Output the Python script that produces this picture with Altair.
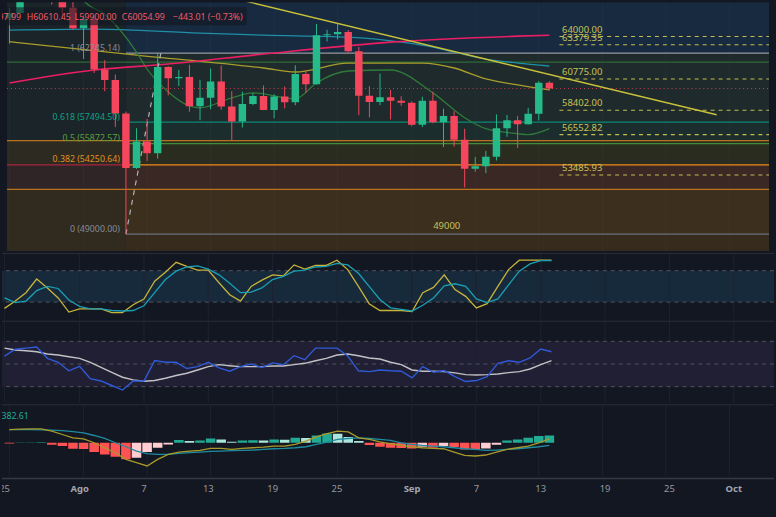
import altair as alt
import pandas as pd

# ---------------------------------------------------------------- data
# day index: 0 = 1 Aug (Ago); -7 = 25 Jul ... 44 = 14 Sep
DAYS = list(range(-7, 45))
OPEN = [65357, 65778, 67908, 67896, 68249, 66784, 66188,
        64628, 65354, 61498, 60697, 58161, 54018, 56022, 55133, 61686, 60837,
        60923, 58712, 59346, 60587, 58683, 57541, 58874, 59491, 58427, 59438,
        59013, 61157, 60381, 64094, 64178, 64333, 62880, 59504, 59027, 59388, 59119,
        58973, 57301, 59132, 57487, 57970, 56160, 53962, 54160, 54869, 57042,
        57635, 57338, 58132, 60497.99]
HIGH = [66175, 68200, 69399, 68318, 70079, 66800, 66849,
        65659, 65596, 62198, 61117, 58305, 57040, 57736, 62745, 61744, 61470,
        61858, 60711, 61572, 61800, 59849, 59817, 59700, 60284, 59617, 60200,
        61820, 61400, 64955, 64513, 65000, 64481, 63213, 60235, 61184, 59950, 59462,
        59072, 59425, 59809, 58519, 58327, 56995, 54850, 55318, 58088, 58044,
        57981, 58588, 60625, 60610.45]
LOW = [63456, 65700, 66650, 67066, 66428, 65323, 64530,
       62302, 61230, 59850, 57122, 49000, 53950, 54558, 54730, 59535, 60242,
       58286, 57642, 58478, 58433, 56078, 57098, 58785, 58408, 57787, 58548,
       58783, 59724, 60345, 63620, 63775, 62800, 58034, 57860, 58786, 57703, 58744,
       57201, 57128, 57415, 55606, 55643, 52550, 53745, 53629, 54591, 56386,
       55545, 57311, 57632, 59900.00]
CLOSE = [65778, 67908, 67896, 68249, 66784, 66188, 64628,
         65354, 61498, 60697, 58161, 54018, 56022, 55134, 61685, 60837, 60923,
         58712, 59346, 60587, 58683, 57541, 58874, 59491, 58427, 59438, 59013,
         61157, 60381, 64094, 64178, 64333, 62880, 59504, 59027, 59388, 59119, 58973,
         57301, 59132, 57487, 57970, 56160, 53962, 54160, 54869, 57042, 57635,
         57338, 58132, 60498, 60054.99]
CHANGE_TEXT = "\u2212443.01 (\u22120.73%)"

# moving averages (knots)
PINK_D = [-7, 1, 8, 17, 29, 41, 44]
PINK_V = [60476, 61458, 61910, 62666, 63572, 64025, 64100]
TEAL_D = [-7, 1, 11, 17, 25, 30, 33, 35, 38, 41, 44]
TEAL_V = [64478, 64553, 64251, 64100, 63949, 63572, 63194, 62817, 62288, 61986, 61760]
YEL_D = [-7, 5, 17, 20, 25, 32, 35, 38, 41, 44]
YEL_V = [63609, 62590, 61609, 61307, 61986, 61986, 61609, 60778, 60325, 59948]
GRN_D = [-1, 0, 2, 5, 6, 8, 10, 11, 14, 16, 20, 22, 25, 29, 33, 36, 38, 41, 42, 44]
GRN_V = [68100, 66742, 65686, 62816, 61533, 59796, 58740, 58588, 59344, 59721,
         59268, 60476, 61382, 61458, 59721, 57834, 57003, 56626, 56550, 57003]

# Fibonacci retracement
FIB_START = 4
FIB_END_DAY = 7.3
FIB_LEVELS = [1, 0.618, 0.5, 0.382, 0]
FIB_PRICES = [62745.14, 57494.50, 55872.57, 54250.64, 49000.00]
ZONE_PRICES = [56100, 52400]
GREEN_LINE = 62060
LAST_PRICE = 60054.99

# horizontal levels
LEVELS = [64000.00, 63379.35, 60775.00, 58402.00, 56552.82, 53485.93]
LEVEL_START = 45.2
TREND_D = [15.0, 59.8]
TREND_V = [66742, 58060]
LABEL_49000_D = 34.3

# oscillators
STOCH_K = [8, 22, 38, 64, 47, 28, 1, 7, 7, 7, 0, 0, 15, 26, 60, 77, 96, 88, 81, 81,
           57, 34, 22, 50, 62, 72, 70, 91, 83, 90, 90, 100, 82, 50, 17, 4, 4,
           4, 2, 38, 48, 72, 44, 31, 9, 17, 50, 82, 100, 100, 100, 100]
STOCH_D = [28, 19, 22, 42, 50, 46, 24, 12, 7, 7, 4, 3, 4, 13, 38, 63, 79, 87, 89, 83,
           72, 56, 38, 39, 47, 63, 69, 79, 81, 87, 88, 94, 91, 75, 50, 25, 9,
           6, 3, 14, 28, 51, 55, 50, 26, 19, 26, 53, 79, 93, 99, 99]
RSI = [57, 63, 64, 65, 55, 51.5, 44, 48, 37, 35, 31, 27, 35, 35, 53, 51.5, 51.5, 46, 47.7, 51.5,
       46.5, 43.6, 47.7, 50, 47, 51, 49.4, 57.3, 53.8, 64, 64, 64, 57, 44, 43.3, 44.7, 44,
       43.6, 37.7, 47.7, 42.7, 44.2, 38.9, 34.5, 35.4, 38.9, 50.6, 52.9, 51.5, 55.3, 63.2, 60.8]
RSI_MA = [64, 62.3, 61.7, 60.8, 58.8, 57.9, 56.4, 55, 51.5, 47.1, 42.7, 38.3, 36, 34.8, 35.4,
          37.4, 39.8, 41.8, 44.7, 47.7, 49.4, 48.5, 47.7, 47.7, 47.7, 48.2, 48.2, 49.4, 50.6,
          52.9, 55, 57.9, 58.8, 57.3, 55.3, 54.4, 51.5,
          49.4, 44.7, 43.6, 43.6, 43.3, 42.2, 40.6, 40.3, 40.6, 41.2, 42.4, 43.3, 45.6, 49.4, 52.9]
MACD_HIST = [-42, 10, 16, 21, -104, -172, -312, -322, -484, -608, -728, -868, -780, -484,
             -260, -88, 140, 88, 120, 224, 172, 52, 120, 135, 114, 172, 156, 260, 250, 380,
             484, 468, 296, 88, -120, -208, -260, -276, -296, -208, -260, -172, -224, -348,
             -354, -296, -104, 120, 172, 260, 348, 382.61]
MACD_LINE = [692, 712, 728, 728, 608, 432, 260, 208, 0, -260, -520, -868, -1040, -1212,
             -868, -608, -484, -432, -400, -296, -296, -348, -296, -260, -224, -172, -172,
             -88, 88, 312, 484, 608, 572, 260, 172, 52, -52,
             -140, -208, -260, -296, -312, -484, -660, -692, -640, -484, -348, -260, -172, 0, 208]
MACD_SIGNAL = [692, 692, 692, 676, 660, 640, 588, 520, 380, 224, 0, -208, -432, -572, -608,
               -608, -556, -520, -484, -452, -432, -416, -400, -380, -348, -312, -296, -260,
               -208, -88, 36, 172, 224, 260, 224, 172, 120,
               0, -88, -140, -172, -208, -260, -312, -348, -400, -380, -348, -312, -260, -208, -140]

TICK_DAYS = [-7, 0, 6, 12, 18, 24, 31, 37, 43, 49, 55, 61]
TICK_LABELS = ["25", "Ago", "7", "13", "19", "25", "Sep", "7", "13", "19", "25", "Oct"]
MONTH_LABELS = ["Ago", "Sep", "Oct"]

# ---------------------------------------------------------------- layout / styles
W = 776
H_MAIN, H_STOCH, H_RSI, H_MACD, H_AXIS = 250, 66, 82, 72, 47
XD = [-7.2356, 64.7495]
PD = [47716.5, 66591.5]
SD = [-11.7, 113.6]
RD = [16.2, 88.2]
MD = [-1732, 2012]
FONT = "Noto Sans"
UP, DOWN = "#26b98a", "#f6465d"
GRID = "#1e2230"
SEP = "#2a2e39"

xsc = alt.Scale(domain=XD, nice=False, zero=False)


def X(f="d"):
    return alt.X(f"{f}:Q", scale=xsc, axis=None)


def Y(f, dom):
    return alt.Y(f"{f}:Q", scale=alt.Scale(domain=dom, nice=False, zero=False), axis=None)


def one():
    return alt.Chart(pd.DataFrame({"k": [0]}))


def hline(p, dom, color, d1=XD[0], d2=XD[1], width=1.0, dash=None, opacity=1.0):
    kw = dict(color=color, strokeWidth=width, opacity=opacity, clip=True)
    if dash:
        kw["strokeDash"] = dash
    df = pd.DataFrame({"d": [d1], "d2": [d2], "p": [p]})
    return alt.Chart(df).mark_rule(**kw).encode(x=X(), x2="d2:Q", y=Y("p", dom))


def label(text, x, y, color, size=8.8, align="left", weight="normal"):
    return one().mark_text(text=text, align=align, baseline="alphabetic", font=FONT,
                           fontSize=size, color=color, fontWeight=weight, clip=True).encode(
        x=alt.value(x), y=alt.value(y))


def sep_line():
    return one().mark_rule(color=SEP, strokeWidth=1).encode(
        x=alt.value(0), x2=alt.value(W), y=alt.value(0.5))


def vgrid(color=GRID, opacity=1.0):
    return alt.Chart(pd.DataFrame({"d": TICK_DAYS})).mark_rule(
        color=color, strokeWidth=1, opacity=opacity).encode(x=X())


# ---------------------------------------------------------------- main pane
top, bot = PD[1], PD[0]
zones = [
    # left of the fib start
    (XD[0], FIB_START, ZONE_PRICES[0], top, "#1b2428"),
    (XD[0], FIB_START, FIB_PRICES[3], ZONE_PRICES[0], "#2c2a21"),
    (XD[0], FIB_START, ZONE_PRICES[1], FIB_PRICES[3], "#2f2527"),
    (XD[0], FIB_START, bot, ZONE_PRICES[1], "#302a1f"),
    # fib zones
    (FIB_START, XD[1], FIB_PRICES[0], top, "#172a3f"),
    (FIB_START, XD[1], FIB_PRICES[1], FIB_PRICES[0], "#1e2a2b"),
    (FIB_START, XD[1], ZONE_PRICES[0], FIB_PRICES[1], "#1b2e2d"),
    (FIB_START, XD[1], FIB_PRICES[3], ZONE_PRICES[0], "#2b2c20"),
    (FIB_START, XD[1], ZONE_PRICES[1], FIB_PRICES[3], "#3a2824"),
    (FIB_START, XD[1], FIB_PRICES[4], ZONE_PRICES[1], "#3c2f1e"),
    (FIB_START, XD[1], bot, FIB_PRICES[4], "#362b1c"),
]
zdf = pd.DataFrame(zones, columns=["d", "d2", "p", "p2", "col"])
bg = alt.Chart(zdf).mark_rect(clip=True).encode(
    x=X(), x2="d2:Q", y=Y("p", PD), y2="p2:Q", color=alt.Color("col:N", scale=None))

layers = [bg, vgrid("#ffffff", 0.03)]

# horizontal structure lines
layers += [
    hline(ZONE_PRICES[0], PD, "#b8731e", width=1.3),
    hline(ZONE_PRICES[1], PD, "#b8731e", width=1.3),
    hline(FIB_PRICES[3], PD, "#a8243f", d2=FIB_START, width=1.3),
    hline(GREEN_LINE, PD, "#2d6a36", width=1.3),
]
fib_line_colors = ["#9598a1", "#0d8a77", "#3f8f3a", "#f08a1a", "#6d707a"]
for p, c in zip(FIB_PRICES, fib_line_colors):
    layers.append(hline(p, PD, c, d1=FIB_START, width=1.2))
layers.append(hline(LAST_PRICE, PD, "#f6465d", width=1, dash=[1, 3], opacity=0.8))

# dashed yellow levels
for p in LEVELS:
    layers.append(hline(p, PD, "#c2bb4d", d1=LEVEL_START - 0.25, width=1.1, dash=[4, 4]))


# moving averages
def ma(days, vals, color, width=1.3):
    df = pd.DataFrame({"d": days, "v": vals})
    return alt.Chart(df).mark_line(color=color, strokeWidth=width, interpolate="monotone",
                                   clip=True).encode(x=X(), y=Y("v", PD))


layers += [
    ma(TEAL_D, TEAL_V, "#1f8ea6"),
    ma(YEL_D, YEL_V, "#a89d2c"),
    ma(GRN_D, GRN_V, "#2f7a3a"),
    ma(PINK_D, PINK_V, "#e91e63", 1.6),
]

# fib diagonal (dashed)
fdf = pd.DataFrame({"d": [FIB_START, FIB_END_DAY], "v": [FIB_PRICES[4], FIB_PRICES[0]]})
layers.append(alt.Chart(fdf).mark_line(color="#b0b3bc", strokeWidth=1.2, strokeDash=[5, 5],
                                       clip=True).encode(x=X(), y=Y("v", PD)))

# candles
cdf = pd.DataFrame({"d": DAYS, "o": OPEN, "h": HIGH, "l": LOW, "c": CLOSE})
cdf["col"] = [UP if c >= o else DOWN for o, c in zip(OPEN, CLOSE)]
layers.append(alt.Chart(cdf).mark_rule(strokeWidth=1, clip=True).encode(
    x=X(), y=Y("l", PD), y2="h:Q", color=alt.Color("col:N", scale=None)))
layers.append(alt.Chart(cdf).mark_bar(size=7.5, clip=True).encode(
    x=X(), y=Y("o", PD), y2="c:Q", color=alt.Color("col:N", scale=None)))

# descending trend line
tdf = pd.DataFrame({"d": TREND_D, "v": TREND_V})
layers.append(alt.Chart(tdf).mark_line(color="#c9c13a", strokeWidth=1.4, clip=True).encode(
    x=X(), y=Y("v", PD)))

# fib labels
fib_text_colors = ["#8a8d96", "#13a085", "#5aa03c", "#e0901f", "#8a8d96"]
fldf = pd.DataFrame({
    "d": [FIB_START - 0.57] * len(FIB_LEVELS),
    "v": FIB_PRICES,
    "t": [f"{l:g} ({p:.2f})" for l, p in zip(FIB_LEVELS, FIB_PRICES)],
    "col": fib_text_colors,
})
layers.append(alt.Chart(fldf).mark_text(align="right", baseline="alphabetic", dy=-2.5,
                                        font=FONT, fontSize=8.8, clip=True).encode(
    x=X(), y=Y("v", PD), text="t:N", color=alt.Color("col:N", scale=None)))

# level labels
lldf = pd.DataFrame({"d": [LEVEL_START] * len(LEVELS), "v": LEVELS,
                     "t": [f"{v:.2f}" for v in LEVELS]})
layers.append(alt.Chart(lldf).mark_text(align="left", baseline="alphabetic", dy=-4,
                                        font=FONT, fontSize=9.5, color="#c9c259",
                                        clip=True).encode(
    x=X(), y=Y("v", PD), text="t:N"))
layers.append(alt.Chart(pd.DataFrame({"d": [LABEL_49000_D], "v": [FIB_PRICES[4]], "t": ["49000"]}))
              .mark_text(align="center", baseline="alphabetic", dy=-5.5, font=FONT,
                         fontSize=9.5, color="#c9c259", clip=True)
              .encode(x=X(), y=Y("v", PD), text="t:N"))

# legend header
layers.append(one().mark_rect(color="#131722", opacity=0.6).encode(
    x=alt.value(0), x2=alt.value(246), y=alt.value(5), y2=alt.value(23)))
hdr_red = "#f25a68"
layers += [
    label(f"O{OPEN[-1]:.2f}", 19, 17.5, hdr_red, align="right"),
    label(f"H{HIGH[-1]:.2f}", 25, 17.5, hdr_red),
    label(f"L{LOW[-1]:.2f}", 73, 17.5, hdr_red),
    label(f"C{CLOSE[-1]:.2f}", 120.5, 17.5, hdr_red),
    label(CHANGE_TEXT, 172, 17.5, hdr_red),
]

main = alt.layer(*layers).properties(width=W, height=H_MAIN)

# ---------------------------------------------------------------- stoch RSI pane
sdf = pd.DataFrame({"d": DAYS, "k": STOCH_K, "dd": STOCH_D})
stoch = alt.layer(
    alt.Chart(pd.DataFrame({"a": [80], "b": [20]})).mark_rect(color="#172a3b").encode(
        x=alt.value(0), x2=alt.value(W), y=Y("a", SD), y2="b:Q"),
    vgrid(),
    alt.Chart(pd.DataFrame({"v": [80, 20]})).mark_rule(color="#50545f", strokeDash=[4, 4],
                                                       strokeWidth=1).encode(y=Y("v", SD)),
    alt.Chart(sdf).mark_line(color="#c6b33a", strokeWidth=1.3, clip=True).encode(x=X(), y=Y("k", SD)),
    alt.Chart(sdf).mark_line(color="#1a9fb4", strokeWidth=1.3, clip=True).encode(x=X(), y=Y("dd", SD)),
    sep_line(),
).properties(width=W, height=H_STOCH)

# ---------------------------------------------------------------- RSI pane
rdf = pd.DataFrame({"d": DAYS, "r": RSI, "m": RSI_MA})
rsi = alt.layer(
    alt.Chart(pd.DataFrame({"a": [70], "b": [30]})).mark_rect(color="#211f33").encode(
        x=alt.value(0), x2=alt.value(W), y=Y("a", RD), y2="b:Q"),
    vgrid(),
    alt.Chart(pd.DataFrame({"v": [70, 50, 30]})).mark_rule(color="#50545f", strokeDash=[4, 4],
                                                           strokeWidth=1).encode(y=Y("v", RD)),
    alt.Chart(rdf).mark_line(color="#c2c2c6", strokeWidth=1.4, clip=True).encode(x=X(), y=Y("m", RD)),
    alt.Chart(rdf).mark_line(color="#2f5ad8", strokeWidth=1.4, clip=True).encode(x=X(), y=Y("r", RD)),
    sep_line(),
).properties(width=W, height=H_RSI)

# ---------------------------------------------------------------- MACD pane
hcols = []
prev = None
for h in MACD_HIST:
    rising = prev is not None and h > prev
    if h >= 0:
        hcols.append("#22ab94" if rising else "#ace5dc")
    else:
        hcols.append("#ffcdd2" if rising else "#ff5252")
    prev = h
mdf = pd.DataFrame({"d": DAYS, "h": MACD_HIST, "m": MACD_LINE, "s": MACD_SIGNAL, "col": hcols})
macd = alt.layer(
    vgrid(),
    alt.Chart(mdf).mark_bar(size=9.6, clip=True).encode(
        x=X(), y=Y("h", MD), y2=alt.datum(0), color=alt.Color("col:N", scale=None)),
    alt.Chart(mdf).mark_line(color="#1e8ca0", strokeWidth=1.3, clip=True).encode(x=X(), y=Y("s", MD)),
    alt.Chart(mdf).mark_line(color="#a89a2a", strokeWidth=1.3, clip=True).encode(x=X(), y=Y("m", MD)),
    label(f"{MACD_HIST[-1]:.2f}", 27, 15, "#22ab94", align="right"),
    sep_line(),
).properties(width=W, height=H_MACD)

# ---------------------------------------------------------------- date axis pane
tdf2 = pd.DataFrame({"d": TICK_DAYS, "t": TICK_LABELS})
tdf2["month"] = [t in MONTH_LABELS for t in TICK_LABELS]
axis = alt.layer(
    alt.Chart(tdf2[~tdf2["month"]]).mark_text(font=FONT, fontSize=9.5, color="#9598a1",
                                                baseline="middle", clip=True).encode(
        x=X(), y=alt.value(11), text="t:N"),
    alt.Chart(tdf2[tdf2["month"]]).mark_text(font=FONT, fontSize=9.5, color="#a3a6af",
                                               fontWeight="bold", baseline="middle",
                                               clip=True).encode(
        x=X(), y=alt.value(11), text="t:N"),
    one().mark_rule(color="#363a45", strokeWidth=1.5).encode(
        x=alt.value(0), x2=alt.value(W), y=alt.value(0.5)),
).properties(width=W, height=H_AXIS)

chart = alt.vconcat(main, stoch, rsi, macd, axis, spacing=0).properties(
    padding=0, background="#131722"
).configure_view(stroke="transparent")

chart.save("out.html", embed_options={"renderer": "svg", "actions": False})
